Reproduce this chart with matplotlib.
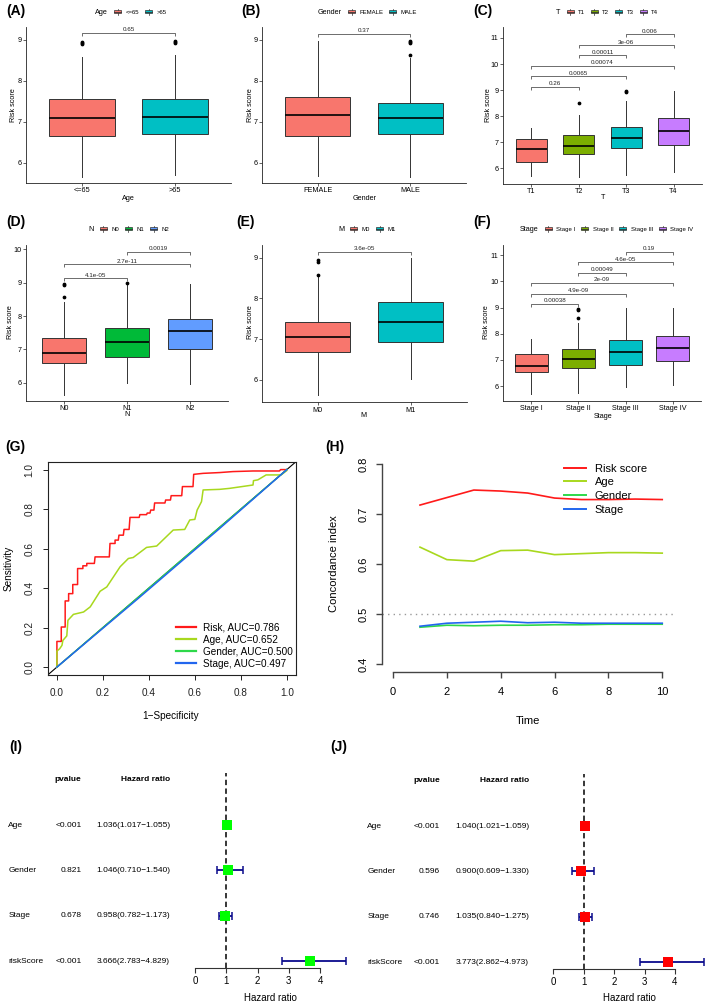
import matplotlib
matplotlib.use('Agg')
import matplotlib.pyplot as plt
import numpy as np
from matplotlib.patches import Rectangle, Patch
from matplotlib.lines import Line2D
from matplotlib.legend_handler import HandlerBase
import matplotlib.transforms as mtrans

plt.rcParams['font.family'] = ['Liberation Sans', 'DejaVu Sans']

# ---------------- data ----------------
# five-number summaries [low whisker, Q1, median, Q3, high whisker]
a_cats = ['<=65', '>65']
a_stats = [[5.66, 6.67, 7.09, 7.56, 8.58], [5.71, 6.71, 7.13, 7.56, 8.63]]
a_fliers = [[8.90, 8.93, 8.96], [8.92, 8.95, 8.97]]
a_pairs = [(1, 2)]
a_py = [9.17]
a_p = ['0.65']

b_cats = ['FEMALE', 'MALE']
b_stats = [[5.69, 6.67, 7.16, 7.60, 8.98], [5.65, 6.71, 7.10, 7.46, 8.57]]
b_fliers = [[], [8.64, 8.92, 8.95, 8.97]]
b_pairs = [(1, 2)]
b_py = [9.15]
b_p = ['0.37']

c_cats = ['T1', 'T2', 'T3', 'T4']
c_stats = [[5.69, 6.24, 6.73, 7.14, 7.56], [5.67, 6.55, 6.84, 7.27, 8.03],
           [5.73, 6.78, 7.16, 7.58, 8.57], [5.87, 6.91, 7.43, 7.93, 8.96]]
c_fliers = [[], [8.51], [8.93, 8.97], []]
c_pairs = [(1, 2), (1, 3), (1, 4), (2, 3), (2, 4), (3, 4)]
c_py = [9.12, 9.53, 9.93, 10.34, 10.72, 11.14]
c_p = ['0.26', '0.0065', '0.00074', '0.00011', '3e-06', '0.006']

d_cats = ['N0', 'N1', 'N2']
d_stats = [[5.63, 6.58, 6.89, 7.33, 8.43], [6.00, 6.78, 7.21, 7.65, 8.93],
           [5.95, 7.02, 7.56, 7.92, 8.96]]
d_fliers = [[8.56, 8.92, 8.95], [8.98], []]
d_pairs = [(1, 2), (1, 3), (2, 3)]
d_py = [9.13, 9.55, 9.93]
d_p = ['4.1e-05', '2.7e-11', '0.0019']

e_cats = ['M0', 'M1']
e_stats = [[5.63, 6.69, 7.06, 7.43, 8.52], [6.02, 6.94, 7.43, 7.90, 8.98]]
e_fliers = [[8.58, 8.90, 8.95], []]
e_pairs = [(1, 2)]
e_py = [9.15]
e_p = ['3.6e-05']

f_cats = ['Stage I', 'Stage II', 'Stage III', 'Stage IV']
f_stats = [[5.68, 6.52, 6.78, 7.21, 7.80], [5.72, 6.70, 7.02, 7.42, 8.42],
           [5.97, 6.79, 7.29, 7.76, 8.97], [6.04, 6.97, 7.44, 7.91, 8.97]]
f_fliers = [[], [8.59, 8.90, 8.95], [], []]
f_pairs = [(1, 2), (1, 3), (1, 4), (2, 3), (2, 4), (3, 4)]
f_py = [9.14, 9.53, 9.94, 10.33, 10.73, 11.14]
f_p = ['0.00038', '4.9e-09', '2e-09', '0.00049', '4.6e-05', '0.19']

# ROC curves (G)
risk_fpr = [0, 0, 0.019, 0.019, 0.036, 0.036, 0.051, 0.051, 0.069, 0.069, 0.090, 0.090,
            0.113, 0.113, 0.130, 0.130, 0.163, 0.166, 0.228, 0.231, 0.253, 0.253, 0.267,
            0.270, 0.289, 0.292, 0.314, 0.318, 0.358, 0.361, 0.390, 0.393, 0.405, 0.408,
            0.422, 0.425, 0.470, 0.473, 0.494, 0.497, 0.543, 0.546, 0.592, 0.595, 0.636,
            0.708, 0.766, 0.853, 0.968, 0.973, 1.0]
risk_tpr = [0, 0.130, 0.130, 0.203, 0.203, 0.335, 0.335, 0.372, 0.372, 0.418, 0.418, 0.499,
            0.499, 0.513, 0.513, 0.525, 0.525, 0.558, 0.558, 0.626, 0.626, 0.643, 0.643,
            0.668, 0.668, 0.697, 0.697, 0.758, 0.758, 0.772, 0.772, 0.780, 0.780, 0.795,
            0.795, 0.831, 0.831, 0.846, 0.846, 0.868, 0.868, 0.914, 0.914, 0.976, 0.981,
            0.985, 0.990, 0.993, 0.993, 1.0, 1.0]
age_fpr = [0, 0, 0.012, 0.022, 0.026, 0.043, 0.048, 0.072, 0.116, 0.145, 0.188, 0.217,
           0.275, 0.311, 0.332, 0.390, 0.434, 0.506, 0.556, 0.578, 0.600, 0.610, 0.629,
           0.636, 0.708, 0.751, 0.853, 0.855, 0.874, 0.910, 0.975, 1.0, 1.0]
age_tpr = [0, 0.081, 0.093, 0.110, 0.135, 0.158, 0.237, 0.267, 0.279, 0.305, 0.384, 0.406,
           0.508, 0.550, 0.555, 0.606, 0.613, 0.694, 0.697, 0.745, 0.748, 0.795, 0.838,
           0.897, 0.900, 0.905, 0.922, 0.944, 0.948, 0.973, 0.973, 0.995, 1.0]
gender_fpr = [0, 1.0]
gender_tpr = [0, 1.0]
stage_fpr = [0, 0.35, 0.70, 1.0]
stage_tpr = [0, 0.344, 0.694, 1.0]
roc_labels = ['Risk, AUC=0.786', 'Age, AUC=0.652', 'Gender, AUC=0.500', 'Stage, AUC=0.497']

# C-index over time (H)
time_pts = [1, 2, 3, 4, 5, 6, 7, 8, 9, 10]
cidx_risk = [0.718, 0.733, 0.748, 0.746, 0.742, 0.732, 0.729, 0.729, 0.730, 0.729]
cidx_age = [0.634, 0.609, 0.606, 0.627, 0.628, 0.619, 0.621, 0.623, 0.623, 0.622]
cidx_gender = [0.474, 0.478, 0.477, 0.478, 0.478, 0.479, 0.479, 0.480, 0.480, 0.480]
cidx_stage = [0.476, 0.482, 0.484, 0.486, 0.483, 0.484, 0.482, 0.482, 0.482, 0.482]
cidx_labels = ['Risk score', 'Age', 'Gender', 'Stage']

# Forest plots (I, J)
forest_vars = ['Age', 'Gender', 'Stage', 'riskScore']
uni_p = ['<0.001', '0.821', '0.678', '<0.001']
uni_hr = [1.036, 1.046, 0.958, 3.666]
uni_lo = [1.017, 0.710, 0.782, 2.783]
uni_hi = [1.055, 1.540, 1.173, 4.829]
multi_p = ['<0.001', '0.596', '0.746', '<0.001']
multi_hr = [1.040, 0.900, 1.035, 3.773]
multi_lo = [1.021, 0.609, 0.840, 2.862]
multi_hi = [1.059, 1.330, 1.275, 4.973]

# ---------------- figure ----------------
W, H = 709, 1007
fig = plt.figure(figsize=(W / 100, H / 100), dpi=100)


def px_axes(l, t, r, b):
    return fig.add_axes([l / W, 1 - b / H, (r - l) / W, (b - t) / H])


def ftext(x, y, s, **kw):
    return fig.text(x / W, 1 - y / H, s, **kw)


GG2 = ['#F8766D', '#00BFC4']
GG3 = ['#F8766D', '#00BA38', '#619CFF']
GG4 = ['#F8766D', '#7CAE00', '#00BFC4', '#C77CFF']
EDGE = '#333333'


class BoxKey(HandlerBase):
    def create_artists(self, legend, orig, xd, yd, w, h, fontsize, trans):
        x0 = -xd + 0.08 * w
        x1 = -xd + 0.92 * w
        y0 = -yd + 0.22 * h
        y1 = -yd + 0.78 * h
        xm = -xd + 0.5 * w
        ym = -yd + 0.5 * h
        rect = Rectangle((x0, y0), x1 - x0, y1 - y0, facecolor=orig.get_facecolor(),
                         edgecolor=EDGE, lw=0.5, transform=trans)
        med = Line2D([x0, x1], [ym, ym], color=EDGE, lw=0.6, transform=trans)
        w1 = Line2D([xm, xm], [-yd, y0], color=EDGE, lw=0.5, transform=trans)
        w2 = Line2D([xm, xm], [y1, -yd + h], color=EDGE, lw=0.5, transform=trans)
        return [rect, w1, w2, med]


class Blank(HandlerBase):
    def create_artists(self, legend, orig, xd, yd, w, h, fontsize, trans):
        return [Line2D([], [], transform=trans, visible=False)]


def box_panel(rect, cats, stats, fliers, colors, ylim, yticks, xlabel,
              pairs, py, pvals, leg_xy, ylab_xy, xlab_xy, width=0.7):
    ax = px_axes(*rect)
    pos = np.arange(1, len(cats) + 1)
    bstats = []
    for c, s, fl in zip(cats, stats, fliers):
        bstats.append(dict(label=c, whislo=s[0], q1=s[1], med=s[2], q3=s[3],
                           whishi=s[4], fliers=fl))
    bp = ax.bxp(bstats, positions=pos, widths=width, patch_artist=True, showcaps=False,
                boxprops=dict(edgecolor=EDGE, linewidth=0.7),
                whiskerprops=dict(color=EDGE, linewidth=0.7),
                medianprops=dict(color='black', linewidth=1.2),
                flierprops=dict(marker='o', markerfacecolor='black', markeredgecolor='black',
                                markersize=1.7, linestyle='none'))
    for patch, col in zip(bp['boxes'], colors):
        patch.set_facecolor(col)
    ax.set_xlim(0.4, len(cats) + 0.6)
    ax.set_ylim(*ylim)
    ax.set_yticks(yticks)
    ax.set_xticks(pos)
    ax.set_xticklabels(cats)
    for s in ['top', 'right']:
        ax.spines[s].set_visible(False)
    for s in ['left', 'bottom']:
        ax.spines[s].set_linewidth(0.6)
        ax.spines[s].set_color('#222222')
    ax.tick_params(length=2, width=0.5, labelsize=5.2, pad=1.2, colors='#222222',
                   labelcolor='black')
    # brackets
    ppu = (rect[3] - rect[1]) / (ylim[1] - ylim[0])
    drop = 3.0 / ppu
    for (i, j), yv, pv in zip(pairs, py, pvals):
        ax.plot([i, i, j, j], [yv - drop, yv, yv, yv - drop], color='#555555', lw=0.6,
                solid_capstyle='butt', clip_on=False)
        ax.text((i + j) / 2, yv + 0.6 / ppu, pv, ha='center', va='bottom', fontsize=4.5,
                color='#222222')
    ftext(ylab_xy[0], ylab_xy[1], 'Risk score', rotation=90, ha='center', va='center',
          fontsize=5.2)
    ftext(xlab_xy[0], xlab_xy[1], xlabel, ha='center', va='center', fontsize=5.2)
    # legend
    handles = [Line2D([], [])] + [Patch(facecolor=c) for c in colors]
    labels = [xlabel] + cats
    hmap = {Patch: BoxKey(), Line2D: Blank()}
    leg = ax.legend(handles, labels, handler_map=hmap, ncol=len(labels), frameon=False,
                    loc='center', bbox_to_anchor=((leg_xy[0] - 3) / W, 1 - leg_xy[1] / H),
                    bbox_transform=fig.transFigure, fontsize=4.3, handlelength=1.4,
                    handleheight=1.15, handletextpad=0.6, columnspacing=0.9,
                    borderpad=0, borderaxespad=0)
    leg.get_texts()[0].set_fontsize(5.2)
    return ax


box_panel((26, 27, 231, 183), a_cats, a_stats, a_fliers, GG2, (5.512, 9.317), [6, 7, 8, 9],
          'Age', a_pairs, a_py, a_p, (128, 12.3), (13.7, 105), (128, 198.3))
box_panel((262, 27, 466, 183), b_cats, b_stats, b_fliers, GG2, (5.512, 9.317), [6, 7, 8, 9],
          'Gender', b_pairs, b_py, b_p, (364.5, 12.3), (250, 105), (364.7, 198.3))
box_panel((503, 27, 702, 184), c_cats, c_stats, c_fliers, GG4, (5.40, 11.42),
          [6, 7, 8, 9, 10, 11], 'T', c_pairs, c_py, c_p, (604, 12.3), (488.3, 105),
          (603.3, 197.7), width=0.66)
box_panel((26, 245, 228, 400.7), d_cats, d_stats, d_fliers, GG3, (5.46, 10.13),
          [6, 7, 8, 9, 10], 'N', d_pairs, d_py, d_p, (125.8, 229.3), (11, 322), (126.7, 415))
box_panel((262, 245, 466.6, 402.3), e_cats, e_stats, e_fliers, GG2, (5.45, 9.31),
          [6, 7, 8, 9], 'M', e_pairs, e_py, e_p, (364, 229.3), (250, 322), (363.3, 415.7))
box_panel((503, 245, 701, 400.7), f_cats, f_stats, f_fliers, GG4, (5.44, 11.39),
          [6, 7, 8, 9, 10, 11], 'Stage', f_pairs, f_py, f_p, (603.8, 229.3), (486.7, 322),
          (603.3, 416))

# panel labels
for lab, x, y in [('(A)', 6, 11), ('(B)', 241, 11), ('(C)', 473, 11),
                  ('(D)', 6, 222), ('(E)', 236, 222), ('(F)', 473, 222),
                  ('(G)', 5, 447), ('(H)', 325, 447), ('(I)', 9, 747), ('(J)', 330, 747)]:
    ftext(x, y, lab, ha='left', va='center', fontsize=10, fontweight='bold')

# ---------------- (G) ROC ----------------
C_RISK, C_AGE, C_GEN, C_STG = '#FF1A1A', '#A8D81E', '#2ED84A', '#2266EE'
axg = px_axes(47.7, 461.7, 296.0, 675)
axg.plot([-0.04, 1.04], [-0.04, 1.04], color='black', lw=0.8)
axg.plot(risk_fpr, risk_tpr, color=C_RISK, lw=1.1, label=roc_labels[0])
axg.plot(age_fpr, age_tpr, color=C_AGE, lw=1.1, label=roc_labels[1])
axg.plot(gender_fpr, gender_tpr, color=C_GEN, lw=1.1, label=roc_labels[2])
axg.plot(stage_fpr, stage_tpr, color=C_STG, lw=1.1, label=roc_labels[3])
axg.set_xlim(-0.04, 1.04)
axg.set_ylim(-0.04, 1.04)
ticks = [0.0, 0.2, 0.4, 0.6, 0.8, 1.0]
axg.set_xticks(ticks)
axg.set_yticks(ticks)
axg.set_xticklabels(['%.1f' % t for t in ticks])
axg.set_yticklabels(['%.1f' % t for t in ticks], rotation=90, va='center')
axg.tick_params(axis='both', length=3.5, width=0.7, labelsize=7.2, colors='#222222')
axg.tick_params(axis='x', pad=5.5)
axg.tick_params(axis='y', pad=6.0)
for s in axg.spines.values():
    s.set_linewidth(0.8)
    s.set_color('#222222')
lg = axg.legend(loc='upper left', bbox_to_anchor=(0.518, 0.246), frameon=False,
                fontsize=7.2, handlelength=2.0, handletextpad=0.7, labelspacing=0.2,
                borderpad=0, borderaxespad=0)
for l in lg.get_lines():
    l.set_linewidth(1.6)
ftext(8.3, 568, 'Sensitivity', rotation=90, ha='center', va='center', fontsize=7.2)
ftext(171, 716, '1\u2212Specificity', ha='center', va='center', fontsize=7.2)

# ---------------- (H) C-index ----------------
axh = px_axes(382.3, 456, 673, 672.3)
axh.axhline(0.5, color='#999999', lw=1.0, ls=(0, (1, 3)))
axh.plot(time_pts, cidx_risk, color=C_RISK, lw=1.2, label=cidx_labels[0])
axh.plot(time_pts, cidx_age, color=C_AGE, lw=1.2, label=cidx_labels[1])
axh.plot(time_pts, cidx_gender, color=C_GEN, lw=1.2, label=cidx_labels[2])
axh.plot(time_pts, cidx_stage, color=C_STG, lw=1.2, label=cidx_labels[3])
axh.set_xlim(-0.4, 10.4)
axh.set_ylim(0.384, 0.816)
axh.set_xticks([0, 2, 4, 6, 8, 10])
axh.set_yticks([0.4, 0.5, 0.6, 0.7, 0.8])
axh.set_yticklabels(['0.4', '0.5', '0.6', '0.7', '0.8'], rotation=90, va='center')
for s in ['top', 'right']:
    axh.spines[s].set_visible(False)
axh.spines['left'].set_bounds(0.4, 0.8)
axh.spines['bottom'].set_bounds(0, 10)
for s in ['left', 'bottom']:
    axh.spines[s].set_linewidth(1.0)
    axh.spines[s].set_color('#444444')
axh.tick_params(axis='both', length=4, width=1.0, labelsize=8, colors='#444444',
                labelcolor='black')
axh.tick_params(axis='x', pad=6.5)
axh.tick_params(axis='y', pad=6.0)
lh = axh.legend(loc='upper left', bbox_to_anchor=(0.626, 0.965), frameon=False,
                fontsize=8, handlelength=1.95, handletextpad=0.8, labelspacing=0.33,
                borderpad=0, borderaxespad=0)
for l in lh.get_lines():
    l.set_linewidth(1.4)
ftext(334, 564, 'Concordance index', rotation=90, ha='center', va='center', fontsize=8)
ftext(527.7, 720.7, 'Time', ha='center', va='center', fontsize=8)


# ---------------- (I, J) forest ----------------
def forest(rect, hr, lo, hi, pv, colr, xcols):
    ax = px_axes(*rect)
    rows = np.arange(len(hr), 0, -1)
    hr_a = np.array(hr)
    ax.errorbar(hr_a, rows, xerr=[hr_a - np.array(lo), np.array(hi) - hr_a], fmt='none',
                ecolor='#0A0A8C', elinewidth=1.3, capsize=2.6, capthick=1.1)
    ax.axvline(1, color='black', lw=1.1, ls=(0, (3.5, 2.2)))
    ax.plot(hr_a, rows, 's', color=colr, markersize=6.6, markeredgewidth=0)
    ax.set_xlim(0, max(hi))
    ax.set_ylim(0.84, 5.16)
    ax.set_yticks([])
    ax.set_xticks([0, 1, 2, 3, 4])
    for s in ['top', 'right', 'left']:
        ax.spines[s].set_visible(False)
    ax.spines['bottom'].set_bounds(0, 4)
    ax.spines['bottom'].set_linewidth(0.8)
    ax.spines['bottom'].set_color('#333333')
    ax.tick_params(axis='x', length=3.6, width=0.8, labelsize=7, pad=1.8, colors='#333333',
                   labelcolor='black')
    tr = mtrans.blended_transform_factory(fig.transFigure, ax.transData)
    fs = 6.0
    fig.text(xcols[1] / W, 5, 'pvalue', transform=tr, ha='right', va='center',
             fontsize=fs, fontweight='bold')
    fig.text(xcols[2] / W, 5, 'Hazard ratio', transform=tr, ha='right', va='center',
             fontsize=fs, fontweight='bold')
    for r, name, p, h_, l_, u_ in zip(rows, forest_vars, pv, hr, lo, hi):
        fig.text(xcols[0] / W, r, name, transform=tr, ha='left', va='center', fontsize=fs)
        fig.text(xcols[1] / W, r, p, transform=tr, ha='right', va='center', fontsize=fs)
        fig.text(xcols[2] / W, r, '%.3f(%.3f\u2212%.3f)' % (h_, l_, u_), transform=tr,
                 ha='right', va='center', fontsize=fs)
    return ax


axi = forest((195, 772.6, 195 + 4.829 * 31.25, 968.3), uni_hr, uni_lo, uni_hi, uni_p,
             '#00FF00', (8.3, 81.5, 170))
ftext(270, 997.7, 'Hazard ratio', ha='center', va='center', fontsize=7)
axj = forest((553.3, 773.6, 553.3 + 4.973 * 30.4, 969.3), multi_hr, multi_lo, multi_hi,
             multi_p, '#FF0000', (367.3, 440, 529))
ftext(629, 998, 'Hazard ratio', ha='center', va='center', fontsize=7)

fig.savefig('out.png', dpi=100, facecolor='white')
